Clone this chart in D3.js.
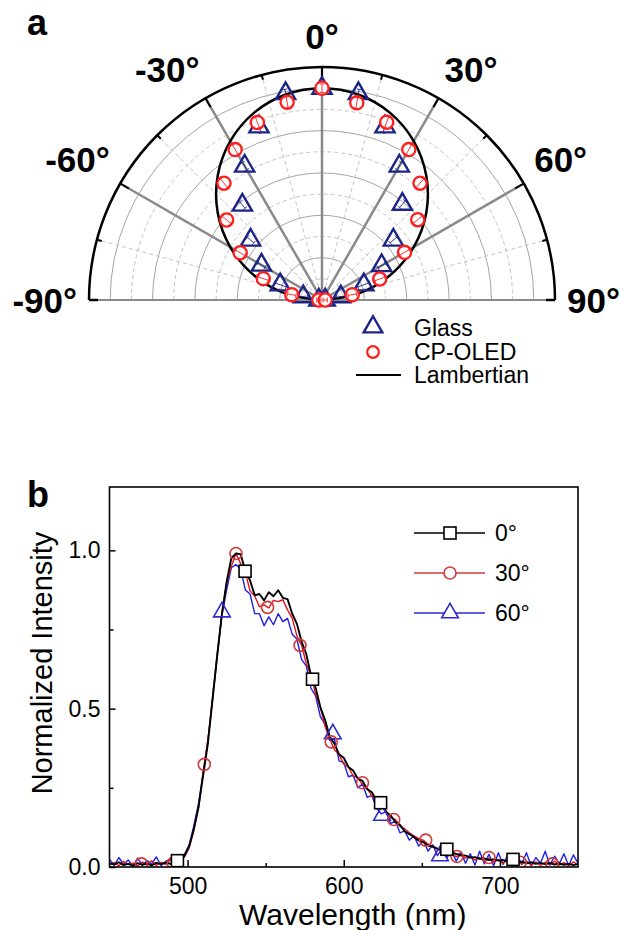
<!DOCTYPE html>
<html>
<head>
<meta charset="utf-8">
<script src="https://cdn.jsdelivr.net/npm/d3@7"></script>
<style>
body { margin: 0; background: #fff; }
text { font-family: "Liberation Sans", Arial, sans-serif; }
</style>
</head>
<body>
<script>
// ---------- panel a: angular emission ----------
var angles = [-90, -80, -70, -60, -50, -40, -30, -20, -10, 0, 10, 20, 30, 40, 50, 60, 70, 80, 90];
var glass = [0.015, 0.09, 0.21, 0.33, 0.44, 0.585, 0.73, 0.87, 0.99, 1.0, 0.99, 0.87, 0.73, 0.59, 0.44, 0.325, 0.21, 0.09, 0.015];
var glassErr = [0.01, 0.02, 0.03, 0.02, 0.02, 0.02, 0.02, 0.03, 0.02, 0.02, 0.02, 0.03, 0.02, 0.02, 0.02, 0.02, 0.03, 0.02, 0.01];
var cpOled = [0.015, 0.145, 0.295, 0.446, 0.588, 0.72, 0.82, 0.892, 0.948, 1.0, 0.945, 0.893, 0.82, 0.72, 0.59, 0.45, 0.29, 0.145, 0.015];
var cpErr = [0.01, 0.02, 0.025, 0.025, 0.025, 0.025, 0.025, 0.025, 0.025, 0.02, 0.025, 0.025, 0.025, 0.025, 0.025, 0.025, 0.025, 0.02, 0.01];
var lambertian = [0, 0.174, 0.342, 0.5, 0.643, 0.766, 0.866, 0.94, 0.985, 1.0, 0.985, 0.94, 0.866, 0.766, 0.643, 0.5, 0.342, 0.174, 0];
var angleLabels = [-90, -60, -30, 0, 30, 60, 90];
var legendA = ["Glass", "CP-OLED", "Lambertian"];

// ---------- panel b: spectra ----------
var wavelength = d3.range(450, 751, 3);
var int0 = [0.012, 0.008, 0.015, 0.006, 0.010, 0.004, 0.012, 0.007, 0.011, 0.005, 0.013, 0.009, 0.014, 0.010, 0.018, 0.022,
  0.035, 0.065, 0.12, 0.19, 0.29, 0.39, 0.53, 0.67, 0.80, 0.90, 0.975, 0.99, 0.988, 0.935, 0.905, 0.858, 0.862, 0.842,
  0.868, 0.855, 0.874, 0.85, 0.846, 0.80, 0.768, 0.712, 0.672, 0.606, 0.566, 0.505, 0.465, 0.412, 0.39, 0.356, 0.345,
  0.316, 0.305, 0.279, 0.272, 0.246, 0.236, 0.21, 0.2, 0.174, 0.163, 0.142, 0.133, 0.113, 0.104, 0.094, 0.084, 0.078,
  0.068, 0.064, 0.058, 0.054, 0.054, 0.046, 0.041, 0.038, 0.036, 0.030, 0.031, 0.026, 0.027, 0.022, 0.024, 0.020,
  0.022, 0.017, 0.022, 0.015, 0.017, 0.012, 0.015, 0.010, 0.013, 0.009, 0.012, 0.008, 0.011, 0.007, 0.010, 0.006, 0.009];
var int30 = [0.006, 0.014, 0.004, 0.018, 0.008, 0.012, 0.003, 0.016, 0.007, 0.020, 0.005, 0.015, 0.008, 0.022, 0.012, 0.025,
  0.032, 0.060, 0.115, 0.185, 0.30, 0.40, 0.535, 0.675, 0.80, 0.895, 0.95, 0.99, 0.958, 0.93, 0.872, 0.856, 0.822, 0.828,
  0.818, 0.842, 0.838, 0.844, 0.812, 0.786, 0.73, 0.70, 0.642, 0.605, 0.545, 0.505, 0.445, 0.405, 0.37, 0.355, 0.325,
  0.315, 0.288, 0.282, 0.26, 0.249, 0.224, 0.214, 0.188, 0.179, 0.156, 0.15, 0.128, 0.121, 0.108, 0.098, 0.09, 0.084,
  0.072, 0.066, 0.055, 0.05, 0.045, 0.04, 0.033, 0.036, 0.028, 0.032, 0.022, 0.030, 0.018, 0.028, 0.015, 0.024,
  0.012, 0.022, 0.010, 0.02, 0.008, 0.018, 0.006, 0.016, 0.005, 0.015, 0.008, 0.018, 0.006, 0.014, 0.004, 0.016, 0.007];
var int60 = [0.025, 0.005, 0.03, 0.008, 0.022, 0.002, 0.028, 0.006, 0.020, 0.010, 0.032, 0.004, 0.018, 0.026, 0.008, 0.03,
  0.04, 0.07, 0.13, 0.2, 0.30, 0.40, 0.53, 0.665, 0.795, 0.875, 0.945, 0.955, 0.94, 0.875, 0.862, 0.80, 0.80, 0.762,
  0.79, 0.765, 0.80, 0.775, 0.785, 0.735, 0.72, 0.655, 0.635, 0.565, 0.54, 0.475, 0.45, 0.40, 0.405, 0.335, 0.33,
  0.285, 0.29, 0.25, 0.262, 0.22, 0.226, 0.186, 0.168, 0.175, 0.137, 0.145, 0.108, 0.114, 0.085, 0.098, 0.066, 0.084,
  0.05, 0.07, 0.036, 0.058, 0.028, 0.052, 0.018, 0.048, 0.012, 0.042, 0.006, 0.05, 0.01, 0.04, 0.004, 0.045,
  0.008, 0.038, 0.003, 0.036, 0.01, 0.045, 0.004, 0.03, 0.012, 0.05, 0.006, 0.034, 0.01, 0.042, 0.004, 0.038, 0.012];
var mark0Wl = [493.5, 536.8, 580, 623.6, 666, 708.4];
var mark0 = [0.02, 0.934, 0.593, 0.203, 0.056, 0.024];
var mark30Wl = [470.5, 490.8, 510.7, 531, 551.2, 572, 592, 612, 632, 652.5, 672.5, 693, 713, 733.5];
var mark30 = [0.01, 0.012, 0.324, 0.99, 0.82, 0.70, 0.395, 0.266, 0.15, 0.085, 0.033, 0.03, 0.015, 0.01];
var mark60Wl = [522, 593, 624.5, 661.6];
var mark60 = [0.805, 0.42, 0.163, 0.035];
var xTicks = [500, 600, 700];
var xMinor = [550, 650];
var yTicks = [0, 0.5, 1.0];
var yMinor = [0.25, 0.75];
var legendB = ["0°", "30°", "60°"];

var w = 620, h = 930;
var navy = "#1c2587", red = "#ff1e1e";

var svg = d3.select("body").append("svg")
    .attr("width", w)
    .attr("height", h);

svg.append("rect").attr("width", w).attr("height", h).attr("fill", "#fff");

function rad(deg) { return deg * Math.PI / 180; }

// ===== polar chart =====
var cx = 322, cy = 300, R = 233;
var rScale = d3.scaleLinear().domain([0, 1.1]).range([0, R]);
var polar = svg.append("g").attr("transform", "translate(" + cx + "," + cy + ")");

function half(r) {
  var p = d3.path();
  p.arc(0, 0, r, Math.PI, 2 * Math.PI);
  return p.toString();
}
function px(deg, r) { return r * Math.sin(rad(deg)); }
function py(deg, r) { return -r * Math.cos(rad(deg)); }

// radial rings (solid every 0.2, dashed in between)
var rings = rScale.ticks(11).filter(function(d) { return d > 0 && d < 1.05; });
polar.selectAll("path.ring")
    .data(rings)
    .enter()
    .append("path")
    .attr("class", "ring")
    .attr("d", function(d) { return half(rScale(d)); })
    .attr("fill", "none")
    .attr("stroke", function(d) { return Math.round(d * 10) % 2 === 0 ? "#a5a5a5" : "#c4c4c4"; })
    .attr("stroke-width", 1)
    .attr("stroke-dasharray", function(d) { return Math.round(d * 10) % 2 === 0 ? null : "4,3"; });

// spokes
var spokes = d3.range(-75, 76, 15);
polar.selectAll("line.spoke")
    .data(spokes)
    .enter()
    .append("line")
    .attr("x1", 0).attr("y1", 0)
    .attr("x2", function(d) { return px(d, R); })
    .attr("y2", function(d) { return py(d, R); })
    .attr("stroke", function(d) { return d % 30 === 0 ? "#8a8a8a" : "#c4c4c4"; })
    .attr("stroke-width", function(d) { return d % 30 === 0 ? 2.5 : 1; })
    .attr("stroke-dasharray", function(d) { return d % 30 === 0 ? null : "4,3"; });

// baseline
polar.append("line")
    .attr("x1", -R).attr("x2", R).attr("y1", 0).attr("y2", 0)
    .attr("stroke", "#8a8a8a").attr("stroke-width", 2.2);
polar.append("path")
    .attr("d", "M" + (-R + 9) + ",0H" + (-R) + "M" + (R - 9) + ",0H" + R)
    .attr("stroke", "#000").attr("stroke-width", 2.5);

// outer arc + ticks
polar.append("path")
    .attr("d", half(R))
    .attr("fill", "none")
    .attr("stroke", "#000")
    .attr("stroke-width", 2.5);
polar.selectAll("line.otick")
    .data(spokes)
    .enter()
    .append("line")
    .attr("x1", function(d) { return px(d, R); })
    .attr("y1", function(d) { return py(d, R); })
    .attr("x2", function(d) { return px(d, R - (d % 30 === 0 ? 10 : 5)); })
    .attr("y2", function(d) { return py(d, R - (d % 30 === 0 ? 10 : 5)); })
    .attr("stroke", "#000")
    .attr("stroke-width", 2);

// Lambertian reference
var radial = d3.lineRadial()
    .angle(function(d) { return rad(d[0]); })
    .radius(function(d) { return rScale(d[1]); })
    .curve(d3.curveCatmullRom);
polar.append("path")
    .datum(d3.zip(angles, lambertian))
    .attr("d", radial)
    .attr("fill", "none")
    .attr("stroke", "#000")
    .attr("stroke-width", 2.5);

// error bars (radial, with caps)
function errBars(vals, errs, color) {
  var p = d3.path();
  angles.forEach(function(a, i) {
    var r0 = rScale(vals[i] - errs[i]), r1 = rScale(vals[i] + errs[i]);
    var c = Math.cos(rad(a)) * 2.5, s = Math.sin(rad(a)) * 2.5;
    p.moveTo(px(a, r0), py(a, r0)); p.lineTo(px(a, r1), py(a, r1));
    [r0, r1].forEach(function(r) {
      p.moveTo(px(a, r) - c, py(a, r) - s); p.lineTo(px(a, r) + c, py(a, r) + s);
    });
  });
  polar.append("path").attr("d", p.toString())
      .attr("fill", "none").attr("stroke", color).attr("stroke-width", 0.9);
}

errBars(glass, glassErr, navy);
polar.selectAll("path.tri")
    .data(d3.zip(angles, glass))
    .enter()
    .append("path")
    .attr("d", d3.symbol(d3.symbolTriangle, 160))
    .attr("transform", function(d) {
      return "translate(" + px(d[0], rScale(d[1])) + "," + py(d[0], rScale(d[1])) + ")";
    })
    .attr("fill", "none")
    .attr("stroke", navy)
    .attr("stroke-width", 2.4);

polar.selectAll("circle.cp")
    .data(d3.zip(angles, cpOled))
    .enter()
    .append("circle")
    .attr("cx", function(d) { return px(d[0], rScale(d[1])); })
    .attr("cy", function(d) { return py(d[0], rScale(d[1])); })
    .attr("r", 6.6)
    .attr("fill", "#fff")
    .attr("stroke", red)
    .attr("stroke-width", 2.3);
errBars(cpOled, cpErr, red);

// angle labels
svg.selectAll("text.ang")
    .data(angleLabels)
    .enter()
    .append("text")
    .attr("x", function(d) { return cx + px(d, R + 12); })
    .attr("y", function(d) { return cy + py(d, R + 12) + (Math.abs(d) === 90 ? 13 : -6); })
    .attr("text-anchor", function(d) { return d > 0 ? "start" : (d < 0 ? "end" : "middle"); })
    .attr("font-size", 35)
    .attr("font-weight", "bold")
    .text(function(d) { return d + "°"; });

svg.append("text").attr("x", 27).attr("y", 35)
    .attr("font-size", 36).attr("font-weight", "bold").text("a");

// legend a
var legA = svg.append("g");
legA.append("path")
    .attr("d", d3.symbol(d3.symbolTriangle, 150))
    .attr("transform", "translate(373,327)")
    .attr("fill", "none").attr("stroke", navy).attr("stroke-width", 2.4);
legA.append("circle")
    .attr("cx", 373).attr("cy", 352).attr("r", 5.8)
    .attr("fill", "none").attr("stroke", red).attr("stroke-width", 2.2);
legA.append("line")
    .attr("x1", 356).attr("x2", 401).attr("y1", 375).attr("y2", 375)
    .attr("stroke", "#000").attr("stroke-width", 2);
legA.selectAll("text")
    .data(legendA)
    .enter()
    .append("text")
    .attr("x", 414)
    .attr("y", function(d, i) { return 336 + i * 23.5; })
    .attr("font-size", 23)
    .text(function(d) { return d; });

// ===== spectra =====
var pLeft = 109.5, pRight = 578, pTop = 487, pBottom = 867;
var x = d3.scaleLinear().domain([450, 750]).range([pLeft, pRight]);
var y = d3.scaleLinear().domain([0, 1.2]).range([pBottom, pTop]);

svg.append("text").attr("x", 27).attr("y", 507)
    .attr("font-size", 36).attr("font-weight", "bold").text("b");

var line = d3.line()
    .x(function(d) { return x(d[0]); })
    .y(function(d) { return y(d[1]); });

svg.append("defs").append("clipPath").attr("id", "clip")
    .append("rect").attr("x", pLeft).attr("y", pTop)
    .attr("width", pRight - pLeft).attr("height", pBottom - pTop);
var plot = svg.append("g").attr("clip-path", "url(#clip)");

var series = [
  { vals: int60, color: "#1f1fe8", width: 1.4 },
  { vals: int30, color: "#e3141b", width: 1.4 },
  { vals: int0, color: "#000", width: 1.9 }
];
series.forEach(function(s) {
  plot.append("path")
      .datum(d3.zip(wavelength, s.vals))
      .attr("d", line)
      .attr("fill", "none")
      .attr("stroke", s.color)
      .attr("stroke-width", s.width)
      .attr("stroke-linejoin", "round");
});

// markers
plot.selectAll("path.m60")
    .data(d3.zip(mark60Wl, mark60))
    .enter()
    .append("path")
    .attr("d", d3.symbol(d3.symbolTriangle, 120))
    .attr("transform", function(d) { return "translate(" + x(d[0]) + "," + y(d[1]) + ")"; })
    .attr("fill", "none").attr("stroke", "#2b2bd0").attr("stroke-width", 1.6);
plot.selectAll("circle.m30")
    .data(d3.zip(mark30Wl, mark30))
    .enter()
    .append("circle")
    .attr("cx", function(d) { return x(d[0]); })
    .attr("cy", function(d) { return y(d[1]); })
    .attr("r", 6)
    .attr("fill", "none").attr("stroke", "#d23a3a").attr("stroke-width", 1.6);
plot.selectAll("rect.m0")
    .data(d3.zip(mark0Wl, mark0))
    .enter()
    .append("rect")
    .attr("x", function(d) { return x(d[0]) - 6; })
    .attr("y", function(d) { return y(d[1]) - 6; })
    .attr("width", 12).attr("height", 12)
    .attr("fill", "#fff").attr("stroke", "#000").attr("stroke-width", 1.6);

// axes (ticks inward)
var xAxis = d3.axisBottom(x).tickValues(xTicks).tickSizeInner(-7).tickSizeOuter(0).tickPadding(11);
var xAxisMinor = d3.axisBottom(x).tickValues(xMinor).tickSize(-4).tickFormat("");
var yAxis = d3.axisLeft(y).tickValues(yTicks).tickFormat(d3.format(".1f")).tickSizeInner(-6).tickSizeOuter(0).tickPadding(9);
var yAxisMinor = d3.axisLeft(y).tickValues(yMinor).tickSize(-4).tickFormat("");

[[xAxis, "translate(0," + pBottom + ")"], [xAxisMinor, "translate(0," + pBottom + ")"],
 [yAxis, "translate(" + pLeft + ",0)"], [yAxisMinor, "translate(" + pLeft + ",0)"]].forEach(function(a) {
  var g = svg.append("g")
      .attr("transform", a[1])
      .call(a[0]);
  g.select(".domain").remove();
  g.selectAll("line").attr("stroke-width", 1.5);
  g.selectAll("text").attr("font-size", 23).attr("font-family", "'Liberation Sans', Arial, sans-serif").attr("fill", "#000");
});

svg.append("rect")
    .attr("x", pLeft).attr("y", pTop)
    .attr("width", pRight - pLeft).attr("height", pBottom - pTop)
    .attr("fill", "none").attr("stroke", "#000").attr("stroke-width", 1.6);

svg.append("text")
    .attr("x", (pLeft + pRight) / 2 + 9).attr("y", 925)
    .attr("text-anchor", "middle").attr("font-size", 30)
    .text("Wavelength (nm)");
svg.append("text")
    .attr("transform", "translate(52,663) rotate(-90)")
    .attr("text-anchor", "middle").attr("font-size", 29)
    .text("Normalized Intensity");

// legend b
var legB = svg.append("g");
var legColors = ["#000", "#d23a3a", "#2b2bd0"];
legendB.forEach(function(t, i) {
  var yy = 533 + i * 40;
  legB.append("line").attr("x1", 414).attr("x2", 485).attr("y1", yy).attr("y2", yy)
      .attr("stroke", legColors[i]).attr("stroke-width", 1.5);
  if (i === 0) {
    legB.append("rect").attr("x", 444).attr("y", yy - 6).attr("width", 12).attr("height", 12)
        .attr("fill", "#fff").attr("stroke", "#000").attr("stroke-width", 1.6);
  } else if (i === 1) {
    legB.append("circle").attr("cx", 450).attr("cy", yy).attr("r", 6)
        .attr("fill", "#fff").attr("stroke", legColors[i]).attr("stroke-width", 1.6);
  } else {
    legB.append("path").attr("d", d3.symbol(d3.symbolTriangle, 120))
        .attr("transform", "translate(450," + yy + ")")
        .attr("fill", "#fff").attr("stroke", legColors[i]).attr("stroke-width", 1.6);
  }
  legB.append("text").attr("x", 495).attr("y", yy).attr("dy", "0.36em")
      .attr("font-size", 23).text(t);
});
</script>
</body>
</html>
